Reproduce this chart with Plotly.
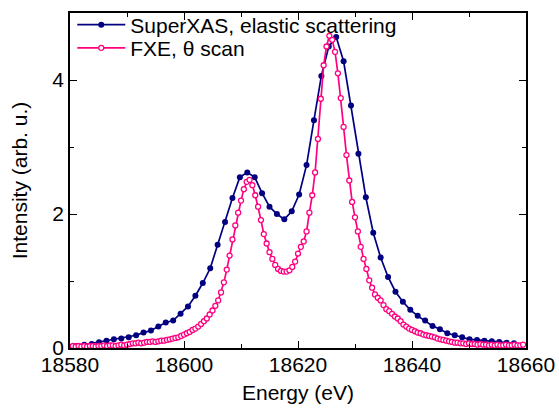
import plotly.graph_objects as go

# SuperXAS elastic-scattering scan (energy in eV, intensity in arb. u.)
superxas_energy = [
    18581.2, 18582.5, 18583.8, 18585.1, 18586.4, 18587.7, 18589.0, 18590.3, 18591.6, 18592.9,
    18594.2, 18595.5, 18596.8, 18598.1, 18599.4, 18600.7, 18602.0, 18603.3, 18604.6, 18605.9,
    18607.2, 18608.5, 18609.8, 18611.1, 18612.4, 18613.7, 18615.0, 18616.3, 18617.6, 18618.9,
    18620.2, 18621.5, 18622.8, 18624.1, 18625.4, 18626.7, 18628.0, 18629.3, 18630.6, 18631.9,
    18633.2, 18634.5, 18635.8, 18637.1, 18638.4, 18639.7, 18641.0, 18642.3, 18643.6, 18644.9,
    18646.2, 18647.5, 18648.8, 18650.1, 18651.4, 18652.7, 18654.0, 18655.3, 18656.6, 18657.9,
]
superxas_intensity = [
    0.03, 0.05, 0.06, 0.085, 0.11, 0.13, 0.14, 0.16, 0.19, 0.23,
    0.26, 0.32, 0.38, 0.41, 0.51, 0.62, 0.78, 0.97, 1.19, 1.54,
    1.88, 2.24, 2.55, 2.62, 2.55, 2.31, 2.11, 2.00, 1.92, 2.04,
    2.29, 2.73, 3.40, 4.06, 4.50, 4.64, 4.28, 3.62, 2.90, 2.25,
    1.72, 1.35, 1.06, 0.84, 0.69, 0.57, 0.48, 0.41, 0.33, 0.28,
    0.22, 0.19, 0.16, 0.13, 0.12, 0.11, 0.10, 0.09, 0.08, 0.07,
]

# FXE theta scan (energy in eV, intensity in arb. u.)
fxe_energy = [
    18580.5, 18581.0, 18581.5, 18582.0, 18582.5, 18583.0, 18583.5, 18584.0, 18584.5, 18585.0,
    18585.5, 18586.0, 18586.5, 18587.0, 18587.5, 18588.0, 18588.5, 18589.0, 18589.5, 18590.0,
    18590.5, 18591.0, 18591.5, 18592.0, 18592.5, 18593.0, 18593.5, 18594.0, 18594.5, 18595.0,
    18595.5, 18596.0, 18596.5, 18597.0, 18597.5, 18598.0, 18598.5, 18599.0, 18599.5, 18600.0,
    18600.5, 18601.0, 18601.5, 18602.0, 18602.5, 18603.0, 18603.5, 18604.0, 18604.5, 18605.0,
    18605.5, 18606.0, 18606.5, 18607.0, 18607.5, 18608.0, 18608.5, 18609.0, 18609.5, 18610.0,
    18610.5, 18611.0, 18611.5, 18612.0, 18612.5, 18613.0, 18613.5, 18614.0, 18614.5, 18615.0,
    18615.5, 18616.0, 18616.5, 18617.0, 18617.5, 18618.0, 18618.5, 18619.0, 18619.5, 18620.0,
    18620.5, 18621.0, 18621.5, 18622.0, 18622.5, 18623.0, 18623.5, 18624.0, 18624.5, 18625.0,
    18625.5, 18626.0, 18626.5, 18627.0, 18627.5, 18628.0, 18628.5, 18629.0, 18629.5, 18630.0,
    18630.5, 18631.0, 18631.5, 18632.0, 18632.5, 18633.0, 18633.5, 18634.0, 18634.5, 18635.0,
    18635.5, 18636.0, 18636.5, 18637.0, 18637.5, 18638.0, 18638.5, 18639.0, 18639.5, 18640.0,
    18640.5, 18641.0, 18641.5, 18642.0, 18642.5, 18643.0, 18643.5, 18644.0, 18644.5, 18645.0,
    18645.5, 18646.0, 18646.5, 18647.0, 18647.5, 18648.0, 18648.5, 18649.0, 18649.5, 18650.0,
    18650.5, 18651.0, 18651.5, 18652.0, 18652.5, 18653.0, 18653.5, 18654.0, 18654.5, 18655.0,
    18655.5, 18656.0, 18656.5, 18657.0, 18657.5, 18658.0, 18658.5, 18659.0, 18659.5,
]
fxe_intensity = [
    0.03, 0.02, 0.03, 0.02, 0.03, 0.02, 0.03, 0.03, 0.02, 0.03,
    0.03, 0.04, 0.03, 0.04, 0.04, 0.03, 0.04, 0.05, 0.04, 0.05,
    0.06, 0.07, 0.07, 0.08, 0.07, 0.08, 0.09, 0.09, 0.10, 0.09,
    0.10, 0.11, 0.11, 0.12, 0.13, 0.14, 0.15, 0.16, 0.18, 0.20,
    0.22, 0.24, 0.27, 0.29, 0.32, 0.36, 0.40, 0.44, 0.50, 0.56,
    0.63, 0.71, 0.83, 0.98, 1.17, 1.38, 1.62, 1.83, 2.02, 2.20,
    2.37, 2.48, 2.51, 2.43, 2.28, 2.11, 1.91, 1.70, 1.56, 1.43,
    1.33, 1.24, 1.18, 1.15, 1.14, 1.14, 1.16, 1.21, 1.29, 1.41,
    1.51, 1.59, 1.74, 2.02, 2.28, 2.62, 3.12, 3.72, 4.22, 4.50,
    4.66, 4.60, 4.42, 4.10, 3.73, 3.30, 2.88, 2.50, 2.18, 1.95,
    1.74, 1.51, 1.33, 1.18, 1.01, 0.90, 0.80, 0.75, 0.71, 0.64,
    0.58, 0.55, 0.51, 0.47, 0.44, 0.40, 0.35, 0.32, 0.29, 0.27,
    0.25, 0.23, 0.22, 0.20, 0.19, 0.18, 0.17, 0.16, 0.14, 0.13,
    0.12, 0.11, 0.10, 0.09, 0.08, 0.08, 0.07, 0.07, 0.06, 0.07,
    0.06, 0.06, 0.05, 0.06, 0.05, 0.05, 0.04, 0.05, 0.04, 0.05,
    0.04, 0.04, 0.05, 0.04, 0.04, 0.05, 0.04, 0.04, 0.05,
]

x_ticks = [18580, 18600, 18620, 18640, 18660]
y_ticks = [0, 2, 4]

NAVY = "#000080"
PINK = "#FF0080"
FONT = "Liberation Sans, Arial, sans-serif"

fig = go.Figure()
fig.add_trace(go.Scatter(
    x=superxas_energy, y=superxas_intensity,
    mode="lines+markers", name="SuperXAS, elastic scattering",
    line=dict(color=NAVY, width=1.7),
    marker=dict(symbol="circle", size=6, color=NAVY, line=dict(width=0)),
    legend="legend", showlegend=True,
))
fig.add_trace(go.Scatter(
    x=fxe_energy, y=fxe_intensity,
    mode="lines+markers", name="FXE, θ scan",
    line=dict(color=PINK, width=1.7),
    marker=dict(symbol="circle", size=5, color="white", line=dict(color=PINK, width=1.3)),
    legend="legend2", showlegend=True,
))

axis_common = dict(
    showline=True, linecolor="black", linewidth=1.5, mirror="ticks",
    ticks="inside", ticklen=7, tickwidth=1.2, tickcolor="black",
    showgrid=False, zeroline=False, automargin=False,
    tickfont=dict(family=FONT, size=21, color="black"),
    exponentformat="none",
)

fig.update_xaxes(
    range=[18580, 18660], tickmode="array", tickvals=x_ticks,
    ticktext=[str(v) for v in x_ticks], ticklabelstandoff=-3,
    minor=dict(ticks="inside", dtick=10, ticklen=4, tickwidth=1.2, tickcolor="black"),
    title=dict(text="Energy (eV)", font=dict(family=FONT, size=21, color="black"), standoff=10),
    **axis_common,
)
fig.update_yaxes(
    range=[0, 5], tickmode="array", tickvals=y_ticks,
    ticktext=[str(v) for v in y_ticks],
    minor=dict(ticks="inside", dtick=1, ticklen=4, tickwidth=1.2, tickcolor="black"),
    title=dict(text="Intensity (arb. u.)", font=dict(family=FONT, size=21, color="black"), standoff=19),
    **axis_common,
)

legend_common = dict(
    xanchor="left", yanchor="middle",
    bgcolor="rgba(0,0,0,0)", borderwidth=0,
    font=dict(family=FONT, size=21, color="black"),
    itemwidth=48,
)

fig.update_layout(
    width=559, height=409,
    margin=dict(l=70, r=33, t=13, b=61, autoexpand=False),
    paper_bgcolor="white", plot_bgcolor="white",
    showlegend=True,
    legend=dict(x=0.005, y=0.964, **legend_common),
    legend2=dict(x=0.005, y=0.895, **legend_common),
)

fig.write_html("out.html")
